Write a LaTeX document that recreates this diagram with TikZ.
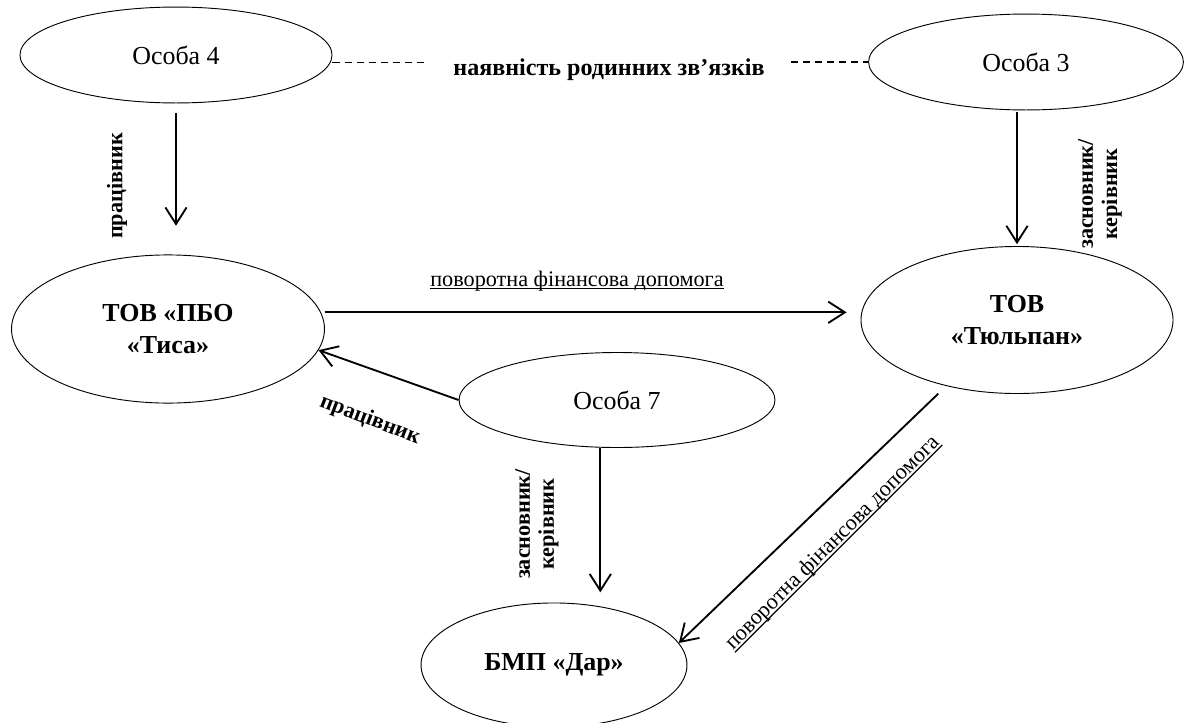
\documentclass[tikz,border=0pt]{standalone}
\usepackage{fontspec}
\setmainfont{Liberation Serif}
\usetikzlibrary{arrows.meta,shapes.geometric}
\newcommand{\fundl}[1]{\setbox0\hbox{#1}\rlap{\rule[-1.7pt]{\wd0}{0.6pt}}\box0}
\begin{document}
\begin{tikzpicture}[x=0.54pt,y=-0.54pt,
	osoba/.style={draw,ellipse,line width=0.5pt,inner sep=0pt,align=center,font=\fontsize{14}{17.5}\selectfont},
	firma/.style={osoba,font=\fontsize{14}{17.5}\selectfont\bfseries},
	arr/.style={-{Straight Barb[length=9pt,width=11.5pt]},line width=1pt},
	rodyna/.style={line width=0.8pt,dash pattern=on 4pt off 2.5pt},
	lbl/.style={font=\fontsize{12}{13}\selectfont\bfseries,align=center,inner sep=0pt},
	fin/.style={font=\fontsize{12}{13}\selectfont,inner sep=0pt}]
	\useasboundingbox (0,0) rectangle (1189,722);
	\node[osoba,minimum width=168.5pt,minimum height=51.8pt] (p4) at (176,55) {Особа 4};
	\node[osoba,minimum width=170pt,minimum height=51.8pt] (p3) at (1026,62) {Особа 3};
	\node[firma,minimum width=169pt,minimum height=80pt] (pbo) at (168,329) {ТОВ «ПБО\\«Тиса»};
	\node[firma,minimum width=168.5pt,minimum height=79.4pt] (tul) at (1017,320) {ТОВ\\«Тюльпан»};
	\node[osoba,minimum width=170.6pt,minimum height=51.3pt] (p7) at (617,400) {Особа 7};
	\node[firma,minimum width=143.6pt,minimum height=67pt] (dar) at (554,665) {БМП «Дар»};
	\node[lbl,font=\fontsize{13}{14}\selectfont\bfseries,inner xsep=14pt] (rel) at (609,70) {наявність родинних зв’язків};
	\draw[rodyna] ([yshift=-4pt]p4.east) -- ([yshift=-4pt]p4.east -| rel.west);
	\draw[rodyna] (rel.east |- p3.west) -- (p3.west);
	\draw[arr,shorten <=5pt,shorten >=15.5pt] (p4.south) -- (p4.south |- pbo.north);
	\node[lbl,rotate=90] (l4) at (117,186) {працівник};
	\draw[arr,shorten <=1pt,shorten >=1pt] (tul.north |- p3.south) -- (tul.north);
	\node[lbl,rotate=90] (l3) at (1100,194) {засновник/\\керівник};
	\draw[arr,shorten >=7.5pt] ([yshift=9pt]pbo.east) -- ([yshift=9pt]pbo.east -| tul.west);
	\node[fin] (lf1) at (577,281) {\fundl{поворотна фінансова допомога}};
	\draw[arr] (p7.west) -- (pbo.-8);
	\node[lbl,rotate=-21] (l7b) at (370,420) {працівник};
	\draw[arr,shorten >=5.5pt] ([xshift=-9pt]p7.south) -- ([xshift=-9pt]p7.south |- dar.north);
	\node[lbl,rotate=90] (l7) at (537,524) {засновник/\\керівник};
	\draw[arr,shorten <=6pt] (tul.-137) -- (dar.10);
	\node[fin,rotate=45] (lf2) at (833,543) {\fundl{поворотна фінансова допомога}};
\end{tikzpicture}
\end{document}
